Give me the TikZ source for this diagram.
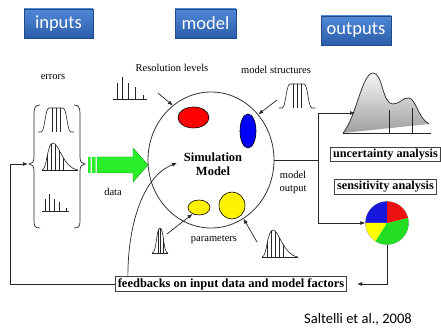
\documentclass[tikz,border=0pt]{standalone}
\usepackage{fontspec}
\setmainfont{Liberation Serif}
\newfontfamily\hdrfont{Carlito}
\usetikzlibrary{shapes.geometric,shadows,arrows.meta}

\definecolor{hdrtop}{HTML}{5089D6}
\definecolor{hdrbot}{HTML}{2B5DAA}
\definecolor{datagreen}{HTML}{2BEE2B}
\definecolor{dataedge}{HTML}{119911}
\definecolor{piered}{HTML}{EE1111}
\definecolor{pieblue}{HTML}{1818DD}
\definecolor{piegreen}{HTML}{22DD22}
\definecolor{pieyellow}{HTML}{FFFF00}

\tikzset{
  icon/.style={line width=0.6pt, draw=black!85},
  % flat-topped distribution with vertical sample lines
  plateau/.pic={
    \begin{scope}
      \clip (3,25) .. controls (7,25) and (7,1) .. (11,1) -- (25,1)
            .. controls (29,1) and (29,25) .. (33,25) -- cycle;
      \foreach \vx in {14,18,22} \draw[icon] (\vx,0) -- (\vx,25);
    \end{scope}
    \draw[icon] (0,25) -- (3,25) .. controls (7,25) and (7,1) .. (11,1) -- (25,1)
          .. controls (29,1) and (29,25) .. (33,25) -- (36,25);
  },
  % right-skewed distribution
  skew/.pic={
    \begin{scope}
      \clip (0,27) .. controls (5,27) and (5,0) .. (11,0)
            .. controls (17,0) and (21,25) .. (36,27) -- cycle;
      \foreach \vx in {5,9,13,17,21} \draw[icon] (\vx,0) -- (\vx,27);
    \end{scope}
    \draw[icon] (0,27) .. controls (5,27) and (5,0) .. (11,0)
          .. controls (17,0) and (21,25) .. (36,27);
    \draw[icon] (0,27) -- (36,27);
  },
  % narrow symmetric bell
  bell/.pic={
    \begin{scope}
      \clip (0,25) .. controls (5,25) and (4,0) .. (8,0)
            .. controls (12,0) and (11,25) .. (16,25) -- cycle;
      \foreach \vx in {6,8.5,11} \draw[icon] (\vx,0) -- (\vx,25);
    \end{scope}
    \draw[icon] (0,25) .. controls (5,25) and (4,0) .. (8,0)
          .. controls (12,0) and (11,25) .. (16,25);
    \draw[icon] (0,25) -- (16,25);
  },
  % discrete levels
  bars/.pic={
    \draw[icon] (0,22) -- (34,22);
    \draw[icon] (4,22) -- (4,6) (9,22) -- (9,0) (15,22) -- (15,6)
                (22,22) -- (22,10) (30,22) -- (30,18);
  }
}

\begin{document}
\begin{tikzpicture}[x=1pt,y=-1pt,
  conn/.style={draw=black!85, line width=0.7pt},
  tip/.style={-{Latex[length=5pt,width=4pt]}},
  hdr/.style={rectangle, top color=hdrtop, bottom color=hdrbot, draw=hdrbot!80!black,
    line width=0.3pt, text=white, font=\hdrfont\fontsize{18.5}{20}\selectfont,
    minimum height=29, inner sep=0,
    drop shadow={shadow xshift=1pt, shadow yshift=-1.5pt, opacity=0.3}},
  lbl/.style={font=\fontsize{10.5}{13}\selectfont, inner sep=0, align=center},
  result/.style={draw=black!75, line width=0.9pt, fill=white,
    font=\bfseries\fontsize{12.2}{14}\selectfont, inner xsep=2.5pt, inner ysep=1.5pt},
  blob/.style={ellipse, draw=black, line width=0.6pt, inner sep=0}
]
\useasboundingbox (0,0) rectangle (441,328);
\fill[white] (0,0) rectangle (441,328);

% headers
\node[hdr, minimum width=69] (inputs) at (58.5,23.5) {inputs};
\node[hdr, minimum width=61] (model) at (205.5,23.5) {model};
\node[hdr, minimum width=70] (outputs) at (356,30.5) {outputs};

% input side: errors in braces
\node[lbl] (errors) at (53,77) {errors};
\draw[icon, line width=0.7pt] (40,105) .. controls (35,105) and (34,108) .. (34,114) -- (34,157)
   .. controls (34,162) and (32,164) .. (29,164) .. controls (32,164) and (34,166) .. (34,171)
   -- (34,221) .. controls (34,226) and (35,228) .. (40,228);
\draw[icon, line width=0.7pt] (74,105) .. controls (79,105) and (80,108) .. (80,114) -- (80,157)
   .. controls (80,162) and (82,164) .. (85,164) .. controls (82,164) and (80,166) .. (80,171)
   -- (80,221) .. controls (80,226) and (79,228) .. (74,228);
\pic at (38,107) {plateau};
\pic at (42,143) {skew};
\pic[scale=0.8] at (42,194) {bars};

% data arrow
\fill[datagreen] (88,157) rectangle (90.5,173) (92,157) rectangle (95.5,173);
\draw[dataedge, line width=0.4pt, fill=datagreen]
  (97,157) -- (133,157) -- (133,148) -- (148,165) -- (133,182) -- (133,173) -- (97,173) -- cycle;
\node[lbl] (data) at (113,192) {data};

% simulation model
\node[ellipse, draw=black!80, line width=0.8pt, minimum width=126, minimum height=136,
      inner sep=0] (sim) at (211,160) {};
\node[blob, fill=red, minimum width=31, minimum height=21] (res) at (193.5,117.5) {};
\node[blob, fill=blue, minimum width=16, minimum height=34] (struct) at (248,131) {};
\node[blob, fill=yellow, minimum width=22, minimum height=15] (p1) at (199,207.5) {};
\node[blob, fill=yellow, minimum width=26, minimum height=27] (p2) at (232,205.5) {};
\node[font=\bfseries\fontsize{12.5}{14}\selectfont, align=center, inner sep=0]
  (simtext) at (213,164) {Simulation\\Model};

% factors acting on the model
\node[lbl] (reslabel) at (172,68) {Resolution levels};
\pic at (113,77) {bars};
\coordinate (resfrom) at (158,93);
\draw[conn,tip] (resfrom) -- (sim.125);

\node[lbl] (structlabel) at (276,70) {model structures};
\pic at (279,83) {plateau};
\coordinate (structfrom) at (277,100);
\draw[conn,tip] (structfrom) -- (sim.44);

\node[lbl] (params) at (214,240) {parameters};
\pic at (152,228) {bell};
\pic at (262,230) {skew};
\coordinate (p1from) at (167,234);
\draw[conn,tip] (p1from) -- (p1.225);
\coordinate (p2from) at (257,242);
\draw[conn,tip] (p2from) -- (sim.-61);

% outputs
\node[lbl] (outlabel) at (293,182) {model\\output};
\coordinate (split) at (318,160);
\draw[conn] (sim.east) -- (split);

\shade[top color=gray!8, bottom color=gray!75]
  (343,133) .. controls (356,118) and (362,73) .. (373,73)
  .. controls (383,73) and (382,104) .. (393,104)
  .. controls (400,104) and (403,97) .. (409,98)
  .. controls (416,99) and (418,118) .. (429,124) -- cycle;
\draw[icon, line width=0.7pt] (343,133) .. controls (356,118) and (362,73) .. (373,73)
  .. controls (383,73) and (382,104) .. (393,104)
  .. controls (400,104) and (403,97) .. (409,98)
  .. controls (416,99) and (418,118) .. (429,124);
\draw[icon] (343,133) -- (431,133);
\draw[icon] (389,110) -- (389,133) (412,108) -- (412,133);
\coordinate (uncin) at (355,113);
\draw[conn,tip] (split) |- (uncin);

\node[result] (unc) at (385.5,154.5) {uncertainty analysis};
\node[result] (sens) at (385.5,187) {sensitivity analysis};

\node[circle, draw=black!60, line width=0.4pt, minimum size=43, inner sep=0] (pie) at (387,223) {};
\begin{scope}[shift={(pie.center)}, x=1pt, y=1pt]
  \fill[pieblue] (0,0) -- (90:21.5) arc[start angle=90, end angle=180, radius=21.5] -- cycle;
  \fill[pieyellow] (0,0) -- (180:21.5) arc[start angle=180, end angle=238, radius=21.5] -- cycle;
  \fill[piegreen] (0,0) -- (238:21.5) arc[start angle=238, end angle=374, radius=21.5] -- cycle;
  \fill[piered] (0,0) -- (14:21.5) arc[start angle=14, end angle=90, radius=21.5] -- cycle;
\end{scope}
\draw[conn,tip] (split) |- (pie.west);

% feedback loop
\node[result, font=\bfseries\fontsize{12.5}{14}\selectfont] (fb) at (231,284)
  {feedbacks on input data and model factors};
\draw[conn,tip,shorten >=10pt] (pie.south) |- (fb.east);
\coordinate (loopc) at (10,164);
\coordinate (btip) at (28,164);
\draw[conn,tip] (fb.west) -| (loopc) -- (btip);
\coordinate (curveend) at (177,163);
\draw[conn,tip] ([xshift=13pt]fb.north west) .. controls (128,220) and (145,175) .. (curveend);

\node[font=\hdrfont\fontsize{14.5}{16}\selectfont, inner sep=0] (cite) at (358,319) {Saltelli et al., 2008};
\end{tikzpicture}
\end{document}
